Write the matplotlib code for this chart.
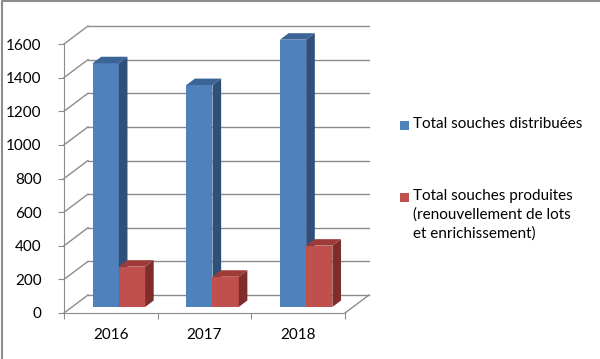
import matplotlib.pyplot as plt
from matplotlib.patches import Polygon, Rectangle
from matplotlib.lines import Line2D

years = ["2016", "2017", "2018"]
distribuees = [1450, 1320, 1590]
produites = [240, 180, 365]
series_labels = ["Total souches distribuées",
                 "Total souches produites\n(renouvellement de lots\net enrichissement)"]
yticks = [0, 200, 400, 600, 800, 1000, 1200, 1400, 1600]

plt.rcParams["font.family"] = ["Lato", "DejaVu Sans"]

fronts = ["#4F81BD", "#C0504D"]
sides = ["#2F5079", "#7F2D2B"]
tops = ["#3C6496", "#9E3B38"]
grid_c = "#8C8C8C"

W, H = 600, 359
fig = plt.figure(figsize=(6, 3.59), dpi=100)
ax = fig.add_axes([64 / W, (H - 313) / H, 281 / W, 269 / H])
ax.set_xlim(0, 3)
ax.set_ylim(0, 1600)

# oblique depth of the 3d box, in data units
DX = 3 * 24 / 281
DY = 1600 * 18 / 269
d0 = 1 / 3     # where the bar front sits in depth
bd = 0.36      # bar depth as share of the box depth
bw = 0.28      # bar width

# back wall, side wall, floor
for v in yticks:
    ax.add_line(Line2D([DX, 3 + DX], [v + DY, v + DY], color=grid_c, lw=1, zorder=1, clip_on=False))
    ax.add_line(Line2D([0, DX], [v, v + DY], color=grid_c, lw=1, zorder=1, clip_on=False))
ax.add_line(Line2D([3, 3 + DX], [0, DY], color=grid_c, lw=1, zorder=1, clip_on=False))

z = 3
for i in range(len(years)):
    for j, vals in enumerate([distribuees, produites]):
        h = vals[i]
        x0 = i + 0.5 - bw + j * bw + d0 * DX
        b = d0 * DY
        ax.bar(x0, h, width=bw, bottom=b, align="edge", color=fronts[j], zorder=z, clip_on=False)
        ox, oy = bd * DX, bd * DY
        side = [(x0 + bw, b), (x0 + bw + ox, b + oy), (x0 + bw + ox, b + h + oy), (x0 + bw, b + h)]
        top = [(x0, b + h), (x0 + ox, b + h + oy), (x0 + bw + ox, b + h + oy), (x0 + bw, b + h)]
        ax.add_patch(Polygon(side, closed=True, facecolor=sides[j], edgecolor="none", zorder=z, clip_on=False))
        ax.add_patch(Polygon(top, closed=True, facecolor=tops[j], edgecolor="none", zorder=z, clip_on=False))
        z += 1

for s in ["top", "right"]:
    ax.spines[s].set_visible(False)
for s in ["left", "bottom"]:
    ax.spines[s].set_color(grid_c)
ax.set_yticks(yticks)
ax.set_xticks([0, 1, 2, 3])
ax.set_xticklabels([])
ax.set_xticks([0.5, 1.5, 2.5], minor=True)
ax.set_xticklabels(years, minor=True)
ax.tick_params(axis="x", which="minor", length=0, pad=11, labelsize=11)
ax.tick_params(axis="x", which="major", length=4, color=grid_c)
ax.tick_params(axis="y", length=4, color=grid_c, pad=12, labelsize=11)
ax.patch.set_visible(False)

# legend
leg_y = [125, 197]
for j, lab in enumerate(series_labels):
    fig.add_artist(Rectangle((400 / W, (H - leg_y[j] - 4.5) / H), 9 / W, 9 / H,
                             facecolor=fronts[j], edgecolor="none", transform=fig.transFigure))
    fig.text(413 / W, (H - leg_y[j] + 8) / H, lab, fontsize=11, va="top", ha="left", linespacing=1.42)

# chart frame (top and left edges)
fig.add_artist(Line2D([1.5 / W, 1.5 / W, 1], [0, 1 - 1 / H, 1 - 1 / H], color="#8C8C8C", lw=1.5,
                      transform=fig.transFigure))

fig.savefig("out.png", dpi=100)
